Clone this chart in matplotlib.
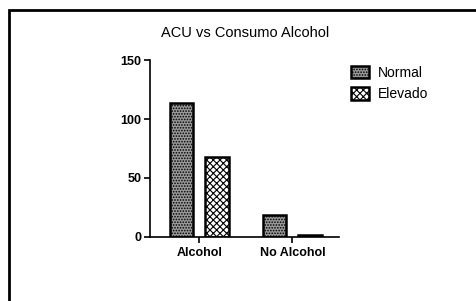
import matplotlib
matplotlib.use("Agg")
import matplotlib.pyplot as plt
from matplotlib.patches import Rectangle
import numpy as np

# datos
categorias = ["Alcohol", "No Alcohol"]
normal = [114, 19]
elevado = [68, 2]
y_ticks = [0, 50, 100, 150]

plt.rcParams['font.family'] = ['Liberation Sans', 'DejaVu Sans']
plt.rcParams['hatch.linewidth'] = 0.8

fig = plt.figure(figsize=(4.76, 3.01), dpi=100)
ax = fig.add_axes([0.315, 0.213, 0.397, 0.587])

x = np.arange(len(categorias))
w = 0.25
ax.bar(x - 0.19, normal, w, facecolor='#9a9a9a', edgecolor='black', linewidth=1.8,
       hatch='......', label='Normal')
ax.bar(x + 0.19, elevado, w, facecolor='white', edgecolor='black', linewidth=1.8,
       hatch='xxxxx', label='Elevado')

ax.set_xlim(-0.53, 1.5)
ax.set_ylim(0, 150)
ax.set_yticks(y_ticks)
ax.set_xticks(x)
ax.set_xticklabels(categorias, fontsize=9, fontweight='bold')
ax.tick_params(axis='y', labelsize=9, length=4, width=1.2, pad=2)
ax.tick_params(axis='x', length=4, width=1.2)
for lbl in ax.get_yticklabels():
    lbl.set_fontweight('bold')
ax.spines['top'].set_visible(False)
ax.spines['right'].set_visible(False)
ax.spines['left'].set_linewidth(1.2)
ax.spines['bottom'].set_linewidth(1.2)

fig.text(0.515, 0.89, "ACU vs Consumo Alcohol", ha='center', va='center', fontsize=10.5)

ax.legend(loc='upper left', bbox_to_anchor=(1.0, 1.04), frameon=False, fontsize=10,
          handlelength=1.3, handleheight=1.0, labelspacing=0.55, handletextpad=0.6)

# marco negro
fig.patches.append(Rectangle((9 / 476, -0.05), 1.1, 1 - 10 / 301 + 0.05,
                             transform=fig.transFigure, fill=False,
                             edgecolor='black', linewidth=2))

fig.savefig("out.png", dpi=100)
